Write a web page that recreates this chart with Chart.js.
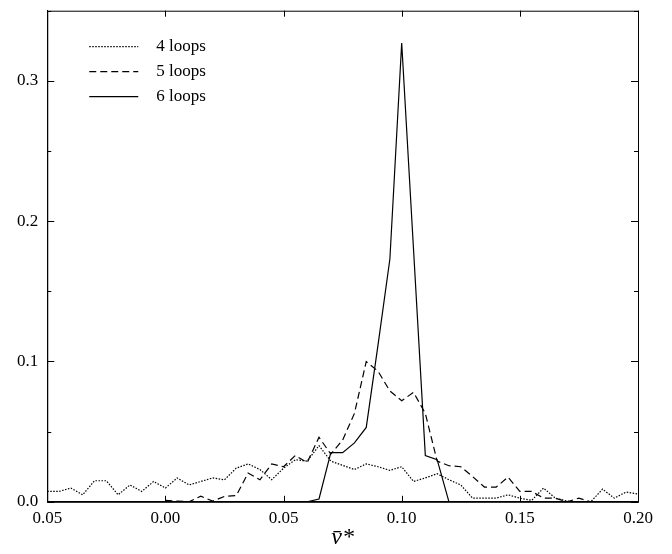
<!DOCTYPE html>
<html>
<head>
<meta charset="utf-8">
<script src="https://cdn.jsdelivr.net/npm/chart.js@4/dist/chart.umd.min.js"></script>
<style>
  html, body { margin: 0; padding: 0; background: #fff; }
  canvas { display: block; }
</style>
</head>
<body>
<canvas id="chart" width="672" height="554"></canvas>
<script>
// bin centres of v* (step 0.005)
const vBins = [
  -0.050, -0.045, -0.040, -0.035, -0.030, -0.025, -0.020, -0.015, -0.010, -0.005,
  0.000, 0.005, 0.010, 0.015, 0.020, 0.025, 0.030, 0.035, 0.040, 0.045,
  0.050, 0.055, 0.060, 0.065, 0.070, 0.075, 0.080, 0.085, 0.090, 0.095,
  0.100, 0.105, 0.110, 0.115, 0.120, 0.125, 0.130, 0.135, 0.140, 0.145,
  0.150, 0.155, 0.160, 0.165, 0.170, 0.175, 0.180, 0.185, 0.190, 0.195,
  0.200
];

const loops4 = [
  0.0074, 0.0074, 0.0098, 0.005, 0.015, 0.015, 0.005, 0.012, 0.0074, 0.0145,
  0.0098, 0.017, 0.012, 0.0145, 0.017, 0.0157, 0.024, 0.027, 0.023, 0.0157,
  0.024, 0.030, 0.029, 0.040, 0.029, 0.026, 0.023, 0.027, 0.025, 0.0224,
  0.025, 0.0145, 0.017, 0.020, 0.0157, 0.012, 0.0026, 0.0026, 0.0026, 0.005,
  0.0026, 0.001, 0.0098, 0.0026, 0.0005, 0, 0, 0.009, 0.0026, 0.007,
  0.0055
];

const loops5 = [
  null, null, null, null, null, null, null, null, null, null,
  0.001, 0.0005, 0, 0.004, 0.0005, 0.0038, 0.0045, 0.0205, 0.0157, 0.027,
  0.025, 0.033, 0.028, 0.046, 0.034, 0.044, 0.063, 0.100, 0.093, 0.079,
  0.072, 0.078, 0.063, 0.029, 0.0257, 0.025, 0.018, 0.0105, 0.0105, 0.0176,
  0.0074, 0.0074, 0.0026, 0.0026, 0, 0.0026, 0, null, null, null,
  null
];

const loops6 = [
  null, null, null, null, null, null, null, null, null, null,
  null, null, null, null, null, null, null, null, null, null,
  null, null, 0, 0.002, 0.035, 0.035, 0.042, 0.053, 0.112, 0.173,
  0.327, 0.18, 0.033, 0.030, 0, null, null, null, null, null,
  null, null, null, null, null, null, null, null, null, null,
  null
];

const seriesLabels = ['4 loops', '5 loops', '6 loops'];
const seriesDash = [[1.5, 1.5], [7, 4], []];

const serif = "'Liberation Serif', 'DejaVu Serif', serif";
Chart.defaults.font.family = serif;
Chart.defaults.color = '#000';

function toPoints(values) {
  return vBins.map((v, i) => ({ x: v, y: values[i] }));
}

// box round the plot with inward ticks on all four sides
const frame = {
  id: 'frame',
  afterDraw(chart) {
    const { ctx, chartArea: a, scales } = chart;
    ctx.save();
    ctx.strokeStyle = '#000';
    ctx.lineWidth = 1;
    ctx.strokeRect(a.left + 0.5, a.top + 0.5, a.right - a.left, a.bottom - a.top);
    ctx.beginPath();
    scales.x.ticks.forEach(t => {
      const px = Math.round(scales.x.getPixelForValue(t.value)) + 0.5;
      ctx.moveTo(px, a.bottom); ctx.lineTo(px, a.bottom - 6);
      ctx.moveTo(px, a.top); ctx.lineTo(px, a.top + 6);
    });
    scales.y.ticks.forEach(t => {
      const py = Math.round(scales.y.getPixelForValue(t.value)) + 0.5;
      const len = Math.round(t.value * 100) % 10 === 0 ? 7 : 4;
      ctx.moveTo(a.left, py); ctx.lineTo(a.left + len, py);
      ctx.moveTo(a.right, py); ctx.lineTo(a.right - len, py);
    });
    ctx.stroke();
    ctx.restore();
  }
};

// legend drawn inside the plot, top-left
const insideLegend = {
  id: 'insideLegend',
  afterDraw(chart) {
    const { ctx, chartArea: a } = chart;
    ctx.save();
    ctx.font = '17px ' + serif;
    ctx.textBaseline = 'middle';
    ctx.fillStyle = '#000';
    chart.data.datasets.forEach((ds, i) => {
      const y = a.top + 36 + i * 25;
      ctx.strokeStyle = '#000';
      ctx.lineWidth = 1.2;
      ctx.setLineDash(ds.borderDash);
      ctx.beginPath();
      ctx.moveTo(a.left + 42, y);
      ctx.lineTo(a.left + 91, y);
      ctx.stroke();
      ctx.setLineDash([]);
      ctx.fillText(ds.label, a.left + 109, y);
    });
    ctx.restore();
  }
};

const datasets = [loops4, loops5, loops6].map((vals, i) => ({
  label: seriesLabels[i],
  data: toPoints(vals),
  borderColor: '#000',
  borderWidth: 1.2,
  borderDash: seriesDash[i],
  pointRadius: 0,
  tension: 0,
  spanGaps: false,
  fill: false
}));

new Chart(document.getElementById('chart'), {
  type: 'line',
  data: { datasets },
  options: {
    responsive: false,
    animation: false,
    layout: { padding: { left: 8, right: 34, top: 3, bottom: 2 } },
    plugins: {
      legend: { display: false },
      tooltip: { enabled: false }
    },
    scales: {
      x: {
        type: 'linear',
        min: -0.05,
        max: 0.20,
        grid: { drawOnChartArea: false, drawTicks: false },
        border: { color: '#000' },
        ticks: {
          stepSize: 0.05,
          maxRotation: 0,
          padding: 7,
          font: { size: 17 },
          callback: v => Math.abs(v).toFixed(2)
        },
        title: {
          display: true,
          text: 'v\u0304*',
          font: { size: 24, style: 'italic' },
          padding: { top: -13, bottom: 0 }
        }
      },
      y: {
        min: 0,
        max: 0.35,
        grid: { drawOnChartArea: false, drawTicks: false },
        border: { color: '#000' },
        ticks: {
          stepSize: 0.05,
          padding: 9,
          font: { size: 17, lineHeight: 0.2 },
          callback: v => Math.round(v * 100) % 10 === 0 ? v.toFixed(1) : ''
        }
      }
    }
  },
  plugins: [frame, insideLegend]
});
</script>
</body>
</html>
